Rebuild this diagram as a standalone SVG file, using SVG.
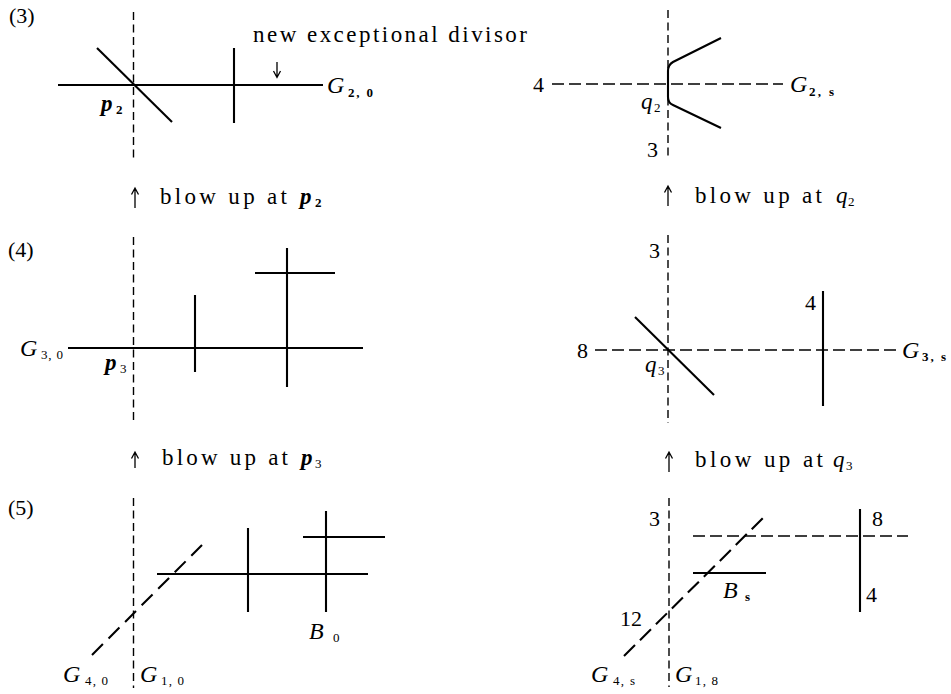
<svg xmlns="http://www.w3.org/2000/svg" width="951" height="694" viewBox="0 0 951 694">
<style>
.s{stroke:#000;stroke-width:2.1;fill:none}
.dv{stroke:#000;stroke-width:1.4;fill:none;stroke-dasharray:8 4.5}
.dh{stroke:#000;stroke-width:1.6;fill:none;stroke-dasharray:12 5}
.ar{stroke:#000;stroke-width:1.3;fill:none}
text{font-family:"Liberation Serif","Times New Roman",serif;fill:#000}
.lab{font-size:24px;font-style:italic}
.pq{font-size:23px;font-style:italic;font-weight:bold}
.q{font-size:23px;font-style:italic}
.sub{font-size:13px;font-weight:bold;font-style:normal}
.subn{font-size:13px;font-style:normal}
.num{font-size:22px}
.cap{font-size:22px}
.txt{font-size:23px}
</style>
<rect width="951" height="694" fill="#fff"/>

<g id="panel-3-left">
<text class="cap" x="9" y="23">(3)</text>
<line class="dv" x1="133.5" y1="12" x2="133.5" y2="162"/>
<line class="s" x1="58" y1="85" x2="323" y2="85"/>
<line class="s" x1="97" y1="48" x2="172" y2="122"/>
<line class="s" x1="234" y1="48" x2="234" y2="123"/>
<text class="txt" x="253" y="42" textLength="274" lengthAdjust="spacing">new exceptional divisor</text>
<path class="ar" d="M277,62 V77 M273.5,71 L277,77.5 L280.5,71"/>
<text class="lab" x="327" y="93">G</text><text class="sub" x="348" y="97" textLength="25" lengthAdjust="spacing">2, 0</text>
<text class="pq" x="101" y="111">p</text><text class="sub" x="116" y="114">2</text>
</g>

<g id="panel-3-right">
<line class="dv" x1="668" y1="10" x2="668" y2="158"/>
<line class="dh" x1="552" y1="84" x2="783" y2="84"/>
<path class="s" d="M721,38 L673,62 Q668,65 668,71 L668,97 Q668,103 673,105 L721,128" stroke-width="2.3"/>
<text class="num" x="533" y="92">4</text>
<text class="lab" x="790" y="92">G</text><text class="sub" x="809" y="96" textLength="25" lengthAdjust="spacing">2, s</text>
<text class="q" x="641" y="109">q</text><text class="subn" x="654" y="112">2</text>
<text class="num" x="647" y="157">3</text>
</g>

<g id="panel-4-left">
<text class="cap" x="8" y="257">(4)</text>
<line class="dv" x1="133.5" y1="237" x2="133.5" y2="423"/>
<line class="s" x1="68" y1="348" x2="363" y2="348"/>
<line class="s" x1="195" y1="295" x2="195" y2="372"/>
<line class="s" x1="287" y1="248" x2="287" y2="387"/>
<line class="s" x1="255" y1="273" x2="335" y2="273"/>
<text class="lab" x="20" y="356">G</text><text class="subn" x="41" y="359" textLength="22" lengthAdjust="spacing">3, 0</text>
<text class="pq" x="105" y="370">p</text><text class="subn" x="120" y="373">3</text>
</g>

<g id="panel-4-right">
<line class="dv" x1="668" y1="235" x2="668" y2="423"/>
<line class="dh" x1="595" y1="350" x2="898" y2="350"/>
<line class="s" x1="635" y1="317" x2="714" y2="395" stroke-width="1.9"/>
<line class="s" x1="823" y1="291" x2="823" y2="406" stroke-width="1.8"/>
<text class="num" x="649" y="258">3</text>
<text class="num" x="577" y="358">8</text>
<text class="num" x="805" y="310">4</text>
<text class="lab" x="902" y="358">G</text><text class="sub" x="922" y="361" textLength="24" lengthAdjust="spacing">3, s</text>
<text class="q" x="645" y="372">q</text><text class="subn" x="658" y="375">3</text>
</g>

<g id="panel-5-left">
<text class="cap" x="8" y="515">(5)</text>
<line class="dv" x1="133.5" y1="498" x2="133.5" y2="688"/>
<line class="s" x1="92" y1="655" x2="202" y2="545" stroke-width="1.6" stroke-dasharray="15.4 8"/>
<line class="s" x1="157" y1="574" x2="368" y2="574"/>
<line class="s" x1="248" y1="528" x2="248" y2="612"/>
<line class="s" x1="326" y1="511" x2="326" y2="612"/>
<line class="s" x1="303" y1="537" x2="385" y2="537"/>
<text class="lab" x="309" y="639">B</text><text class="subn" x="333" y="642">0</text>
<text class="lab" x="63" y="682">G</text><text class="subn" x="85" y="685" textLength="23" lengthAdjust="spacing">4, 0</text>
<text class="lab" x="140" y="682">G</text><text class="subn" x="161" y="685" textLength="23" lengthAdjust="spacing">1, 0</text>
</g>

<g id="panel-5-right">
<line class="dv" x1="669" y1="498" x2="669" y2="687"/>
<line class="dh" x1="693" y1="536" x2="908" y2="536"/>
<line class="s" x1="624" y1="656" x2="763" y2="518" stroke-width="1.6" stroke-dasharray="15.5 7"/>
<line class="s" x1="693" y1="573" x2="766" y2="573"/>
<line class="s" x1="860" y1="509" x2="860" y2="612" stroke-width="1.8"/>
<text class="num" x="649" y="526">3</text>
<text class="num" x="872" y="526">8</text>
<text class="num" x="866" y="602">4</text>
<text class="num" x="620" y="626">12</text>
<text class="lab" x="723" y="598">B</text><text class="sub" x="745" y="601">s</text>
<text class="lab" x="591" y="682">G</text><text class="subn" x="613" y="685" textLength="22" lengthAdjust="spacing">4, s</text>
<text class="lab" x="675" y="682">G</text><text class="subn" x="695" y="685" textLength="23" lengthAdjust="spacing">1, 8</text>
</g>

<g id="connectors">
<path class="ar" d="M135,208 V188.5 M131.5,194.5 L135,188 L138.5,194.5"/>
<text class="txt" x="160" y="204" textLength="127" lengthAdjust="spacing">blow up at</text>
<text class="pq" x="300" y="204" font-size="21">p</text><text class="sub" x="315" y="207">2</text>
<path class="ar" d="M668,206 V186.5 M664.5,192.5 L668,186 L671.5,192.5"/>
<text class="txt" x="695" y="203" textLength="127" lengthAdjust="spacing">blow up at</text>
<text class="q" x="836" y="203" font-size="21">q</text><text class="subn" x="848" y="206">2</text>
<path class="ar" d="M135,468 V452.5 M131.5,458.5 L135,452 L138.5,458.5"/>
<text class="txt" x="162" y="465" textLength="126" lengthAdjust="spacing">blow up at</text>
<text class="pq" x="301" y="465" font-size="21">p</text><text class="subn" x="315" y="468">3</text>
<path class="ar" d="M669,472 V452.5 M665.5,458.5 L669,452 L672.5,458.5"/>
<text class="txt" x="695" y="467" textLength="128" lengthAdjust="spacing">blow up at</text>
<text class="q" x="833" y="467" font-size="21">q</text><text class="subn" x="846" y="470">3</text>
</g>
</svg>
